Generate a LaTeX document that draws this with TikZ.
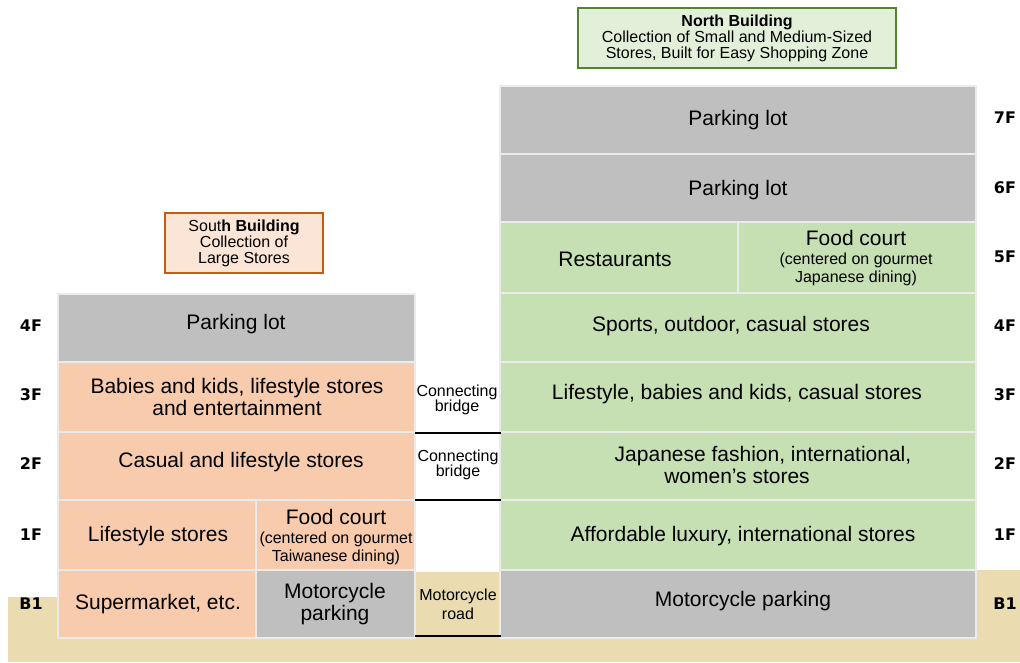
\documentclass[tikz,border=0pt]{standalone}
\usepackage{fontspec}
\setmainfont{Liberation Sans}
\newfontfamily\floorfont{DejaVu Sans}
\definecolor{parkgray}{HTML}{BFBFBF}
\definecolor{southfill}{HTML}{F8CBAD}
\definecolor{northfill}{HTML}{C6E0B4}
\definecolor{groundfill}{HTML}{EADCB0}
\definecolor{southtag}{HTML}{FBE5D6}
\definecolor{southedge}{HTML}{C55A11}
\definecolor{northtag}{HTML}{E2F0D9}
\definecolor{northedge}{HTML}{548235}
\begin{document}
\begin{tikzpicture}[x=0.75pt,y=-0.75pt,
  room/.style={draw=white!92!black, line width=0.8pt},
  park/.style={room, fill=parkgray},
  south/.style={room, fill=southfill},
  north/.style={room, fill=northfill},
  ground/.style={fill=groundfill},
  txt/.style={inner sep=0pt, align=center, text=black,
    font=\fontsize{15.75}{16.5}\selectfont},
  small/.style={inner sep=0pt, align=center, text=black,
    font=\fontsize{12}{11.5}\selectfont},
  floor/.style={inner sep=0pt, text=black, font=\floorfont\bfseries\fontsize{12}{12}\selectfont},
  bar/.style={line width=2.2pt, black},
  tag/.style={line width=1.5pt, inner sep=0pt, align=center,
    font=\fontsize{12}{12}\selectfont}]

% canvas
\useasboundingbox (0,0) rectangle (1020,662);
\fill[white] (0,0) rectangle (1020,662);

% ground level
\fill[ground] (8,597) rectangle (1020,662);
\fill[ground] (976,570) rectangle (1020,597);
\fill[ground] (415,572) rectangle (500,636);

% ---------- South Building ----------
\path[park]  (58,294) rectangle (415,362);
\path[south] (58,362) rectangle (415,432);
\path[south] (58,432) rectangle (415,500);
\path[south] (58,500) rectangle (256,570);
\path[south] (256,500) rectangle (415,570);
\path[south] (58,570) rectangle (256,638);
\path[park]  (256,570) rectangle (415,638);

\node[txt] (s4) at (236,324) {Parking lot};
\node[txt] (s3) at (237,397) {Babies and kids, lifestyle stores\\and entertainment};
\node[txt] (s2) at (241,462) {Casual and lifestyle stores};
\node[txt] (s1a) at (158,536) {Lifestyle stores};
\node[txt] (s1b) at (336,537) {Food court\\[-2pt]{\fontsize{12}{11.5}\selectfont (centered on gourmet}\\[-3pt]{\fontsize{12}{11.5}\selectfont Taiwanese dining)}};
\node[txt] (sb1a) at (158,604) {Supermarket, etc.};
\node[txt] (sb1b) at (335,604) {Motorcycle\\parking};

% ---------- North Building ----------
\path[park]  (500,86) rectangle (976,154);
\path[park]  (500,154) rectangle (976,222);
\path[north] (500,222) rectangle (738,293);
\path[north] (738,222) rectangle (976,293);
\path[north] (500,293) rectangle (976,362);
\path[north] (500,362) rectangle (976,432);
\path[north] (500,432) rectangle (976,500);
\path[north] (500,500) rectangle (976,570);
\path[park]  (500,570) rectangle (976,638);

\node[txt] (n7) at (738,120) {Parking lot};
\node[txt] (n6) at (738,190) {Parking lot};
\node[txt] (n5a) at (615,259) {Restaurants};
\node[txt] (n5b) at (856,258) {Food court\\[-2pt]{\fontsize{12}{11.5}\selectfont (centered on gourmet}\\[-3pt]{\fontsize{12}{11.5}\selectfont Japanese dining)}};
\node[txt] (n4) at (731,326) {Sports, outdoor, casual stores};
\node[txt] (n3) at (737,394) {Lifestyle, babies and kids, casual stores};
\node[txt] (n2) at (737,465) {\hspace*{39pt}Japanese fashion, international,\\women’s stores};
\node[txt] (n1) at (743,536) {Affordable luxury, international stores};
\node[txt] (nb1) at (743,601) {Motorcycle parking};

% ---------- links between the buildings ----------
\node[small] (br3) at (457,400) {Connecting\\bridge};
\node[small] (br2) at (458,465) {Connecting\\bridge};
\node[small] (road) at (458,604) {Motorcycle\\[3pt]road};
\draw[bar] (415,433) -- (501,433);
\draw[bar] (415,500) -- (501,500);
\draw[bar] (415,636) -- (501,636);

% ---------- floor numbers ----------
\foreach \f/\y in {4F/326,3F/395,2F/464,1F/535,B1/604}
  \node[floor] (l\f) at (31,\y) {\f};
\foreach \f/\y in {7F/118,6F/188,5F/257,4F/326,3F/395,2F/464,1F/535,B1/604}
  \node[floor] (r\f) at (1005,\y) {\f};

% ---------- building tags ----------
\node[tag, draw=northedge, fill=northtag, minimum width=239pt, minimum height=45pt]
  (ntag) at (737,38) {\textbf{North Building}\\Collection of Small and Medium-Sized\\Stores, Built for Easy Shopping Zone};
\node[tag, draw=southedge, fill=southtag, minimum width=118pt, minimum height=45pt]
  (stag) at (244,243) {Sout\textbf{h Building}\\Collection of\\Large Stores};
\end{tikzpicture}
\end{document}
